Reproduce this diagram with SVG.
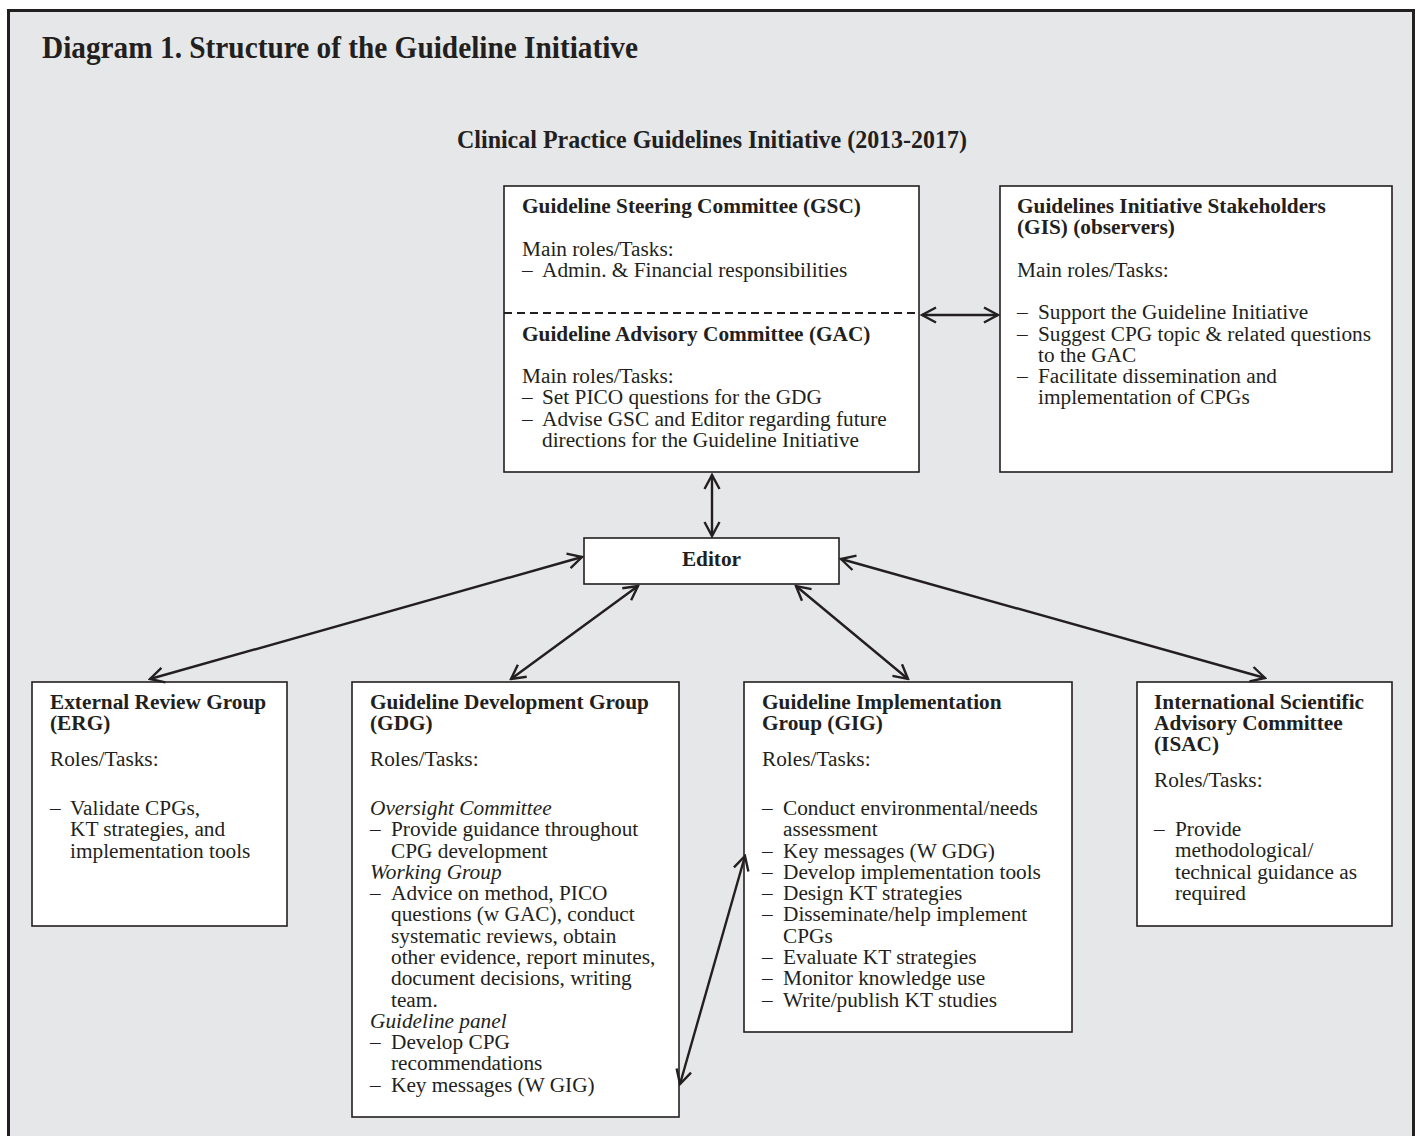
<svg xmlns="http://www.w3.org/2000/svg" width="1420" height="1136" viewBox="0 0 1420 1136">
<defs>
<style>
.frame{fill:#e6e7e8;stroke:#231f20;stroke-width:3}
.box{fill:#ffffff;stroke:#231f20;stroke-width:1.6}
.t{font-family:"Liberation Serif","Times New Roman",serif;font-size:21.3px;fill:#231f20}
.b{font-weight:bold}
.i{font-style:italic}
.conn{stroke:#231f20;stroke-width:2.4;fill:none;marker-start:url(#ah);marker-end:url(#ah)}
.dash{stroke:#231f20;stroke-width:2;stroke-dasharray:8 5;fill:none}
</style>
<marker id="ah" viewBox="0 0 18 18" refX="16" refY="9" markerWidth="18" markerHeight="18" markerUnits="userSpaceOnUse" orient="auto-start-reverse">
<path d="M2,1.5 L16,9 L2,16.5" fill="none" stroke="#231f20" stroke-width="2.4"/>
</marker>
</defs>
<rect x="0" y="0" width="1420" height="1136" fill="#ffffff"/>
<rect class="frame" x="8.5" y="10.5" width="1405" height="1140"/>
<text class="t b" x="42" y="58" textLength="596" lengthAdjust="spacingAndGlyphs" style="font-size:32px">Diagram 1. Structure of the Guideline Initiative</text>
<text class="t b" x="457" y="148" textLength="510" lengthAdjust="spacingAndGlyphs" style="font-size:25px">Clinical Practice Guidelines Initiative (2013-2017)</text>

<g id="gsc-gac">
<rect class="box" x="504" y="186" width="415" height="286"/>
<g id="gsc">
<text class="t b" x="522" y="213">Guideline Steering Committee (GSC)</text>
<text class="t" x="522" y="256">Main roles/Tasks:</text>
<text class="t" y="277"><tspan x="522">–</tspan><tspan x="542">Admin. &amp; Financial responsibilities</tspan></text>
</g>
<line class="dash" x1="504" y1="313" x2="919" y2="313"/>
<g id="gac">
<text class="t b" x="522" y="341">Guideline Advisory Committee (GAC)</text>
<text class="t" x="522" y="383">Main roles/Tasks:</text>
<text class="t" y="404"><tspan x="522">–</tspan><tspan x="542">Set PICO questions for the GDG</tspan></text>
<text class="t" y="426"><tspan x="522">–</tspan><tspan x="542">Advise GSC and Editor regarding future</tspan></text>
<text class="t" x="542" y="447">directions for the Guideline Initiative</text>
</g>
</g>

<g id="gis">
<rect class="box" x="1000" y="186" width="392" height="286"/>
<text class="t b" x="1017" y="213">Guidelines Initiative Stakeholders</text>
<text class="t b" x="1017" y="234">(GIS) (observers)</text>
<text class="t" x="1017" y="277">Main roles/Tasks:</text>
<text class="t" y="319"><tspan x="1017">–</tspan><tspan x="1038">Support the Guideline Initiative</tspan></text>
<text class="t" y="341"><tspan x="1017">–</tspan><tspan x="1038">Suggest CPG topic &amp; related questions</tspan></text>
<text class="t" x="1038" y="362">to the GAC</text>
<text class="t" y="383"><tspan x="1017">–</tspan><tspan x="1038">Facilitate dissemination and</tspan></text>
<text class="t" x="1038" y="404">implementation of CPGs</text>
</g>

<g id="editor">
<rect class="box" x="584" y="538" width="255" height="46"/>
<text class="t b" x="711.5" y="566" text-anchor="middle">Editor</text>
</g>

<g id="erg">
<rect class="box" x="32" y="682" width="255" height="244"/>
<text class="t b" x="50" y="709">External Review Group</text>
<text class="t b" x="50" y="730">(ERG)</text>
<text class="t" x="50" y="766">Roles/Tasks:</text>
<text class="t" y="815"><tspan x="50">–</tspan><tspan x="70">Validate CPGs,</tspan></text>
<text class="t" x="70" y="836">KT strategies, and</text>
<text class="t" x="70" y="858">implementation tools</text>
</g>

<g id="gdg">
<rect class="box" x="352" y="682" width="327" height="435"/>
<text class="t b" x="370" y="709">Guideline Development Group</text>
<text class="t b" x="370" y="730">(GDG)</text>
<text class="t" x="370" y="766">Roles/Tasks:</text>
<text class="t i" x="370" y="815">Oversight Committee</text>
<text class="t" y="836"><tspan x="370">–</tspan><tspan x="391">Provide guidance throughout</tspan></text>
<text class="t" x="391" y="858">CPG development</text>
<text class="t i" x="370" y="879">Working Group</text>
<text class="t" y="900"><tspan x="370">–</tspan><tspan x="391">Advice on method, PICO</tspan></text>
<text class="t" x="391" y="921">questions (w GAC), conduct</text>
<text class="t" x="391" y="943">systematic reviews, obtain</text>
<text class="t" x="391" y="964">other evidence, report minutes,</text>
<text class="t" x="391" y="985">document decisions, writing</text>
<text class="t" x="391" y="1007">team.</text>
<text class="t i" x="370" y="1028">Guideline panel</text>
<text class="t" y="1049"><tspan x="370">–</tspan><tspan x="391">Develop CPG</tspan></text>
<text class="t" x="391" y="1070">recommendations</text>
<text class="t" y="1092"><tspan x="370">–</tspan><tspan x="391">Key messages (W GIG)</tspan></text>
</g>

<g id="gig">
<rect class="box" x="744" y="682" width="328" height="350"/>
<text class="t b" x="762" y="709">Guideline Implementation</text>
<text class="t b" x="762" y="730">Group (GIG)</text>
<text class="t" x="762" y="766">Roles/Tasks:</text>
<text class="t" y="815"><tspan x="762">–</tspan><tspan x="783">Conduct environmental/needs</tspan></text>
<text class="t" x="783" y="836">assessment</text>
<text class="t" y="858"><tspan x="762">–</tspan><tspan x="783">Key messages (W GDG)</tspan></text>
<text class="t" y="879"><tspan x="762">–</tspan><tspan x="783">Develop implementation tools</tspan></text>
<text class="t" y="900"><tspan x="762">–</tspan><tspan x="783">Design KT strategies</tspan></text>
<text class="t" y="921"><tspan x="762">–</tspan><tspan x="783">Disseminate/help implement</tspan></text>
<text class="t" x="783" y="943">CPGs</text>
<text class="t" y="964"><tspan x="762">–</tspan><tspan x="783">Evaluate KT strategies</tspan></text>
<text class="t" y="985"><tspan x="762">–</tspan><tspan x="783">Monitor knowledge use</tspan></text>
<text class="t" y="1007"><tspan x="762">–</tspan><tspan x="783">Write/publish KT studies</tspan></text>
</g>

<g id="isac">
<rect class="box" x="1137" y="682" width="255" height="244"/>
<text class="t b" x="1154" y="709">International Scientific</text>
<text class="t b" x="1154" y="730">Advisory Committee</text>
<text class="t b" x="1154" y="751">(ISAC)</text>
<text class="t" x="1154" y="787">Roles/Tasks:</text>
<text class="t" y="836"><tspan x="1154">–</tspan><tspan x="1175">Provide</tspan></text>
<text class="t" x="1175" y="857">methodological/</text>
<text class="t" x="1175" y="879">technical guidance as</text>
<text class="t" x="1175" y="900">required</text>
</g>

<g id="connectors">
<line class="conn" x1="922" y1="315" x2="998" y2="315"/>
<line class="conn" x1="712" y1="475" x2="712" y2="536"/>
<line class="conn" x1="582" y1="557" x2="150" y2="679"/>
<line class="conn" x1="638" y1="586" x2="511" y2="679"/>
<line class="conn" x1="796" y1="586" x2="908" y2="679"/>
<line class="conn" x1="841" y1="559" x2="1265" y2="678"/>
<line class="conn" x1="680" y1="1084" x2="745" y2="856"/>
</g>
</svg>
